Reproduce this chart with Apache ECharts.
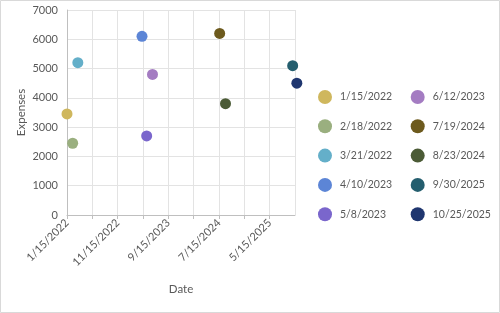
<!DOCTYPE html>
<html><head><meta charset="utf-8">
<script src="https://cdn.jsdelivr.net/npm/echarts@6/dist/echarts.min.js"></script>
<style>html,body{margin:0;padding:0;background:#fff}#c{width:500px;height:313px}</style>
</head><body><div id="c"></div>
<script>
const dates = ['1/15/2022','2/18/2022','3/21/2022','4/10/2023','5/8/2023','6/12/2023','7/19/2024','8/23/2024','9/30/2025','10/25/2025'];
const expenses = [3450, 2450, 5200, 6100, 2700, 4800, 6200, 3800, 5100, 4500];
const colors = ['#CFB75D','#9AAF7F','#64AFC9','#5C85D6','#7A66CC','#A47CC2','#6D5A1D','#4B5B36','#245E6E','#1F366F'];
const yTicks = [0,1000,2000,3000,4000,5000,6000,7000];
const axisStart = '1/15/2022';
const labelStepDays = 304;
const gridStepDays = 152;
const axisEndDays = 1368;

function toUTC(s){const p=s.split('/').map(Number);return Date.UTC(p[2],p[0]-1,p[1]);}
const base = toUTC(axisStart);
const DAY = 86400000;
function offs(s){return Math.round((toUTC(s)-base)/DAY);}
function fmt(v){const d=new Date(base+v*DAY);return (d.getUTCMonth()+1)+'/'+d.getUTCDate()+'/'+d.getUTCFullYear();}

const FONT = 'Lato';
const series = dates.map((d,i)=>({
  name:d, type:'scatter', symbolSize:11, clip:false,
  itemStyle:{color:colors[i], opacity:1},
  data:[[offs(d), expenses[i]]]
}));
const legendText = {color:'#595959', fontFamily:FONT, fontSize:10.5, padding:[0,0,0,3]};
const chart = echarts.init(document.getElementById('c'));
chart.setOption({
  animation:false,
  graphic:[{type:'rect', shape:{x:0.5,y:0.5,width:499,height:312}, style:{fill:'none', stroke:'#d9d9d9', lineWidth:1}, silent:true}],
  grid:{left:67, right:205, top:10, bottom:98},
  xAxis:{type:'value', min:0, max:axisEndDays, interval:gridStepDays,
    name:'Date', nameLocation:'middle', nameGap:68,
    nameTextStyle:{color:'#595959', fontFamily:FONT, fontSize:11.5},
    axisLine:{lineStyle:{color:'#bfbfbf'}},
    axisTick:{show:true, length:4, lineStyle:{color:'#bfbfbf'}},
    splitLine:{show:true, lineStyle:{color:'#e3e3e3'}},
    axisLabel:{rotate:45, margin:6, color:'#595959', fontFamily:FONT, fontSize:11, showMaxLabel:false,
      formatter:v=> (v % labelStepDays === 0 ? fmt(v) : '')}
  },
  yAxis:{type:'value', min:yTicks[0], max:yTicks[yTicks.length-1], interval:yTicks[1]-yTicks[0],
    name:'Expenses', nameLocation:'middle', nameGap:40,
    nameTextStyle:{color:'#595959', fontFamily:FONT, fontSize:11.5},
    axisLine:{show:true, lineStyle:{color:'#bfbfbf'}},
    axisTick:{show:false},
    splitLine:{show:true, lineStyle:{color:'#e3e3e3'}},
    axisLabel:{margin:9, color:'#595959', fontFamily:FONT, fontSize:11, formatter:v=>String(v)}
  },
  legend:[
    {data:dates.slice(0,5), orient:'vertical', left:313, top:85, itemWidth:14, itemHeight:14, itemGap:15.3, icon:'circle', textStyle:legendText},
    {data:dates.slice(5), orient:'vertical', left:405.7, top:85, itemWidth:14, itemHeight:14, itemGap:15.3, icon:'circle', textStyle:legendText}
  ],
  series:series
});
</script></body></html>
